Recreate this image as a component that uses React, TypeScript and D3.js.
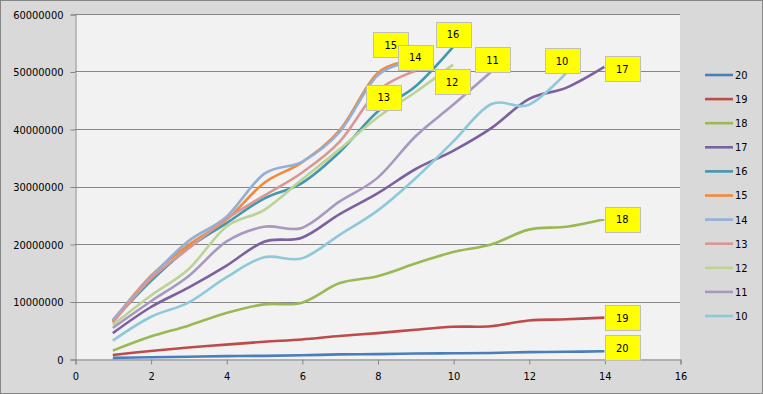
import { useEffect, useRef } from 'react';
import * as d3 from 'd3';

// values in millions, x runs 1..n for each series
const seriesNames = ['20', '19', '18', '17', '16', '15', '14', '13', '12', '11', '10'];
const s20 = [0.2, 0.3, 0.4, 0.5, 0.55, 0.65, 0.8, 0.85, 0.95, 1.0, 1.05, 1.2, 1.25, 1.35];
const s19 = [0.7, 1.4, 2.0, 2.5, 3.0, 3.4, 4.0, 4.5, 5.1, 5.6, 5.7, 6.7, 6.9, 7.2];
const s18 = [1.45, 3.9, 5.8, 8.0, 9.5, 9.8, 13.2, 14.4, 16.6, 18.6, 19.9, 22.5, 23.0, 24.3];
const s17 = [4.5, 9.0, 12.4, 16.2, 20.4, 21.1, 25.2, 28.8, 33.0, 36.2, 40.1, 45.2, 47.2, 50.8];
const s16 = [6.6, 13.5, 19.3, 23.6, 27.9, 30.6, 36.0, 43.0, 47.4, 54.3];
const s15 = [6.6, 14.4, 19.8, 24.2, 30.6, 34.2, 39.8, 49.7, 52.0];
const s14 = [6.8, 14.2, 20.5, 24.7, 32.2, 34.3, 39.5, 49.3, 51.8];
const s13 = [6.3, 13.9, 19.2, 24.3, 28.4, 32.4, 37.8, 46.6, 50.1];
const s12 = [5.9, 11.0, 15.6, 23.0, 25.9, 31.2, 36.5, 42.0, 46.4, 51.2];
const s11 = [5.4, 10.0, 14.4, 20.4, 23.0, 22.8, 27.4, 31.5, 38.7, 44.2, 49.9];
const s10 = [3.2, 7.3, 9.8, 14.2, 17.7, 17.5, 21.6, 25.8, 31.4, 37.8, 44.3, 44.2, 49.8];
const seriesValues = [s20, s19, s18, s17, s16, s15, s14, s13, s12, s11, s10];

const xTicks = [0, 2, 4, 6, 8, 10, 12, 14, 16];
const yTicks = [0, 10000000, 20000000, 30000000, 40000000, 50000000, 60000000];

const colors = ['#4a7ebb', '#be4b48', '#98b954', '#7d60a0', '#4198af', '#f08b3c',
  '#93afd8', '#d99694', '#bcd396', '#a898c0', '#8ec8da'];

// label box offset from the last point (box center), pixels
const labelOffsets = [
  { dx: 18, dy: -3.5 }, { dx: 18, dy: 0 }, { dx: 18, dy: 0 }, { dx: 18, dy: 2 },
  { dx: 0, dy: -12.5 }, { dx: -24.5, dy: -15 }, { dx: 0, dy: -4 }, { dx: -31.5, dy: 26.5 },
  { dx: -1, dy: 17 }, { dx: 1.5, dy: -12.5 }, { dx: -4.5, dy: -12 },
];

export default function App() {
  const svgRef = useRef<SVGSVGElement>(null);

  useEffect(() => {
    const width = 763;
    const height = 394;
    const plot = { left: 75, right: 680, top: 14, bottom: 359 };
    const font = '"DejaVu Sans Condensed", "DejaVu Sans", sans-serif';

    const svg = d3.select(svgRef.current);
    svg.selectAll('*').remove();
    svg.attr('width', width).attr('height', height);

    svg.append('rect').attr('x', 0.5).attr('y', 0.5)
      .attr('width', width - 1).attr('height', height - 1)
      .attr('fill', '#d9d9d9').attr('stroke', '#868686');

    const x = d3.scaleLinear().domain([0, 16]).range([plot.left, plot.right]);
    const y = d3.scaleLinear().domain([0, 60000000]).range([plot.bottom, plot.top]);

    svg.append('rect')
      .attr('x', plot.left).attr('y', plot.top)
      .attr('width', plot.right - plot.left).attr('height', plot.bottom - plot.top)
      .attr('fill', '#f2f2f2');

    // gridlines
    svg.append('g').selectAll('line').data(yTicks.slice(1)).join('line')
      .attr('x1', plot.left).attr('x2', plot.right)
      .attr('y1', d => Math.round(y(d)) + 0.5).attr('y2', d => Math.round(y(d)) + 0.5)
      .attr('stroke', '#868686');

    // y axis
    const yAxis = svg.append('g')
      .attr('transform', `translate(${plot.left + 0.5},0.5)`)
      .call(d3.axisLeft(y).tickValues(yTicks).tickSize(5).tickFormat(d => String(d)));
    yAxis.select('.domain').attr('stroke', '#868686');
    yAxis.selectAll('line').attr('stroke', '#868686');
    yAxis.selectAll('text').attr('font-family', font).attr('font-size', 11)
      .attr('fill', '#000').attr('x', -12);

    // x axis
    const xAxis = svg.append('g')
      .attr('transform', `translate(0.5,${plot.bottom + 0.5})`)
      .call(d3.axisBottom(x).tickValues(xTicks).tickSize(5).tickFormat(d => String(d)));
    xAxis.select('.domain').attr('stroke', '#868686');
    xAxis.selectAll('line').attr('stroke', '#868686');
    xAxis.selectAll('text').attr('font-family', font).attr('font-size', 11)
      .attr('fill', '#000').attr('y', 13);

    const line = d3.line<number>()
      .x((_, i) => x(i + 1))
      .y(d => y(d * 1e6))
      .curve(d3.curveCardinal.tension(0));

    seriesValues.forEach((vals, i) => {
      svg.append('path')
        .datum(vals)
        .attr('fill', 'none')
        .attr('stroke', colors[i])
        .attr('stroke-width', 2.6)
        .attr('stroke-linejoin', 'round')
        .attr('d', line);
    });

    // data labels
    seriesValues.forEach((vals, i) => {
      const n = vals.length;
      const cx = x(n) + labelOffsets[i].dx;
      const cy = y(vals[n - 1] * 1e6) + labelOffsets[i].dy;
      const g = svg.append('g');
      g.append('rect')
        .attr('x', Math.round(cx - 17.5) + 0.5).attr('y', Math.round(cy - 12.5) + 0.5)
        .attr('width', 35).attr('height', 25)
        .attr('fill', '#ffff00').attr('stroke', '#bfbfbf');
      g.append('text')
        .attr('x', cx).attr('y', cy)
        .attr('dy', '0.36em')
        .attr('text-anchor', 'middle')
        .attr('font-family', font).attr('font-size', 11)
        .attr('fill', '#000')
        .text(seriesNames[i]);
    });

    // legend
    const legend = svg.append('g');
    seriesNames.forEach((name, i) => {
      const ly = 75 + i * 24.1;
      legend.append('line')
        .attr('x1', 705).attr('x2', 733)
        .attr('y1', ly).attr('y2', ly)
        .attr('stroke', colors[i]).attr('stroke-width', 2.6);
      legend.append('text')
        .attr('x', 735).attr('y', ly).attr('dy', '0.36em')
        .attr('font-family', font).attr('font-size', 11)
        .attr('fill', '#000')
        .text(name);
    });
  }, []);

  return (
    <div style={{ position: 'absolute', left: 0, top: 0 }}>
      <svg ref={svgRef} style={{ display: 'block' }}></svg>
    </div>
  );
}
